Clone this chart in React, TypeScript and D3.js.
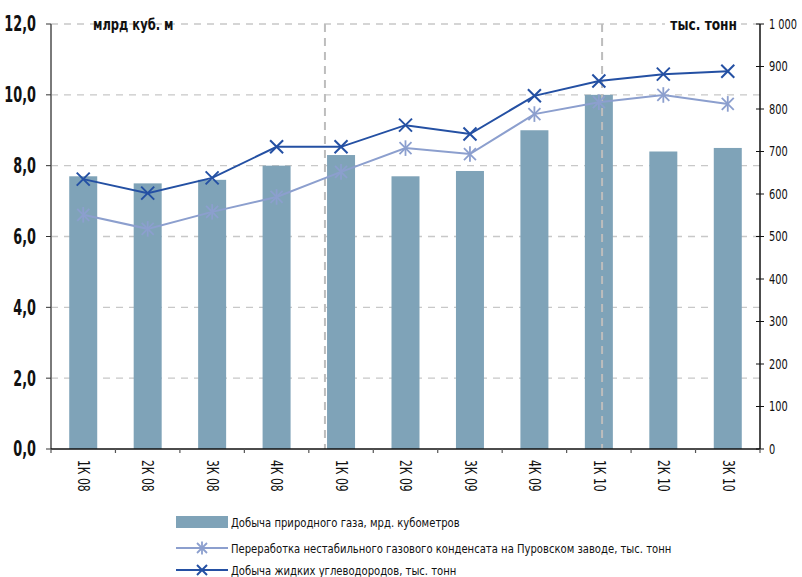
import React from "react";
import * as d3 from "d3";

const categories = ["1К 08", "2К 08", "3К 08", "4К 08", "1К 09", "2К 09", "3К 09", "4К 09", "1К 10", "2К 10", "3К 10"];
const gasValues = [7.7, 7.5, 7.6, 8.0, 8.3, 7.7, 7.85, 9.0, 10.0, 8.4, 8.5];
const condensateValues = [551, 518, 558, 593, 652, 708, 694, 788, 816, 833, 812];
const liquidValues = [635, 602, 638, 711, 711, 762, 741, 831, 866, 882, 889];
const leftTicks = [0, 2, 4, 6, 8, 10, 12];
const rightTicks = [0, 100, 200, 300, 400, 500, 600, 700, 800, 900, 1000];
const dividerPositions = [4.25, 8.55];
const legendLabels = [
  "Добыча природного газа, мрд. кубометров",
  "Переработка нестабильного газового конденсата на Пуровском заводе, тыс. тонн",
  "Добыча жидких углеводородов, тыс. тонн",
];

const W = 802, H = 577;
const L = 51, R = 760, T = 24, B = 449;
const FONT = "'DejaVu Sans Condensed', 'Liberation Sans Narrow', sans-serif";
const BAR = "#7fa3b8";
const DARK = "#2450a3";
const LIGHT = "#8c9fce";

type TProps = {
  x: number; y: number; sx: number; size: number; anchor?: string; weight?: string; rotate?: number; children: React.ReactNode;
};
function CText({ x, y, sx, size, anchor = "start", weight = "normal", rotate = 0, children }: TProps) {
  return (
    <g transform={`translate(${x},${y}) rotate(${rotate}) scale(${sx},1)`}>
      <text x={0} y={0} dy="0.35em" textAnchor={anchor} fontSize={size} fontWeight={weight} fill="#111">{children}</text>
    </g>
  );
}

export default function App() {
  const x = d3.scaleBand<string>().domain(categories).range([L, R]).paddingInner(0).paddingOuter(0);
  const yL = d3.scaleLinear().domain([0, 12]).range([B, T]);
  const yR = d3.scaleLinear().domain([0, 1000]).range([B, T]);
  const step = x.step();
  const bw = 28;
  const cx = (c: string) => (x(c) as number) + step / 2;
  const lineR = d3.line<number>().x((_, i) => cx(categories[i])).y((v) => yR(v));
  const fmtL = (v: number) => d3.format(".1f")(v).replace(".", ",");
  const fmtR = (v: number) => (v >= 1000 ? d3.format(",")(v).replace(",", " ") : String(v));

  const xMark = (px: number, py: number, s: number, color: string, sw: number, key: string) => (
    <g key={key} stroke={color} strokeWidth={sw}>
      <line x1={px - s} y1={py - s} x2={px + s} y2={py + s} />
      <line x1={px - s} y1={py + s} x2={px + s} y2={py - s} />
    </g>
  );
  const star = (px: number, py: number, s: number, color: string, key: string) => (
    <g key={key} stroke={color} strokeWidth={1.8}>
      <line x1={px - s} y1={py - s} x2={px + s} y2={py + s} />
      <line x1={px - s} y1={py + s} x2={px + s} y2={py - s} />
      <line x1={px} y1={py - s * 1.3} x2={px} y2={py + s * 1.3} />
    </g>
  );

  return (
    <svg width={W} height={H} style={{ position: "absolute", left: 0, top: 0, background: "#fff" }} fontFamily={FONT}>
      {leftTicks.filter((t) => t > 0).map((t) => (
        <line key={"g" + t} x1={L} x2={R} y1={yL(t)} y2={yL(t)} stroke="#c8c8c8" strokeWidth={1.3} strokeDasharray="7,6" />
      ))}
      {categories.map((c, i) => (
        <rect key={c} x={cx(c) - bw / 2} y={yL(gasValues[i])} width={bw} height={B - yL(gasValues[i])} fill={BAR} />
      ))}
      {dividerPositions.map((p, i) => (
        <line key={"d" + i} x1={L + p * step} x2={L + p * step} y1={T} y2={B} stroke="#bdbdbd" strokeWidth={2} strokeDasharray="8,6" />
      ))}
      <path d={lineR(condensateValues) || ""} fill="none" stroke={LIGHT} strokeWidth={2} />
      {condensateValues.map((v, i) => star(cx(categories[i]), yR(v), 6, LIGHT, "s" + i))}
      <path d={lineR(liquidValues) || ""} fill="none" stroke={DARK} strokeWidth={2} />
      {liquidValues.map((v, i) => xMark(cx(categories[i]), yR(v), 6.5, DARK, 2, "x" + i))}

      <line x1={L} x2={L} y1={T} y2={B} stroke="#7a7a7a" strokeWidth={2} />
      {leftTicks.map((t) => (
        <g key={"l" + t}>
          <line x1={L - 5} x2={L} y1={yL(t)} y2={yL(t)} stroke="#333" strokeWidth={1} />
          <CText x={L - 15} y={yL(t)} sx={0.68} size={21} anchor="end" weight="bold">{fmtL(t)}</CText>
        </g>
      ))}
      <line x1={R} x2={R} y1={T} y2={B} stroke="#111" strokeWidth={1.5} />
      {rightTicks.map((t) => (
        <g key={"r" + t}>
          <line x1={R - 4} x2={R + 4} y1={yR(t)} y2={yR(t)} stroke="#111" strokeWidth={1} />
          <CText x={R + 9} y={yR(t)} sx={0.78} size={14}>{fmtR(t)}</CText>
        </g>
      ))}
      <line x1={L} x2={R} y1={B} y2={B} stroke="#111" strokeWidth={1.5} />
      {d3.range(categories.length + 1).map((i) => (
        <line key={"xt" + i} x1={L + i * step} x2={L + i * step} y1={B} y2={B + 4} stroke="#555" strokeWidth={1.2} />
      ))}
      {categories.map((c) => (
        <CText key={"xl" + c} x={cx(c)} y={B + 11} rotate={90} sx={0.8} size={15}>{c}</CText>
      ))}

      <CText x={93} y={T} sx={0.8} size={16} weight="bold">млрд куб. м</CText>
      <rect x={665} y={T - 10} width={76} height={20} fill="#fff" />
      <CText x={737} y={T} sx={0.85} size={16} weight="bold" anchor="end">тыс. тонн</CText>

      <rect x={176} y={516} width={52} height={12} fill={BAR} />
      <CText x={231} y={522} sx={0.86} size={13}>{legendLabels[0]}</CText>
      <line x1={176} x2={228} y1={548} y2={548} stroke={LIGHT} strokeWidth={2} />
      {star(202, 548, 5, LIGHT, "ls")}
      <CText x={231} y={548} sx={0.86} size={13}>{legendLabels[1]}</CText>
      <line x1={176} x2={228} y1={570} y2={570} stroke={DARK} strokeWidth={2} />
      {xMark(202, 570, 5, DARK, 2, "lx")}
      <CText x={231} y={570} sx={0.86} size={13}>{legendLabels[2]}</CText>
    </svg>
  );
}
